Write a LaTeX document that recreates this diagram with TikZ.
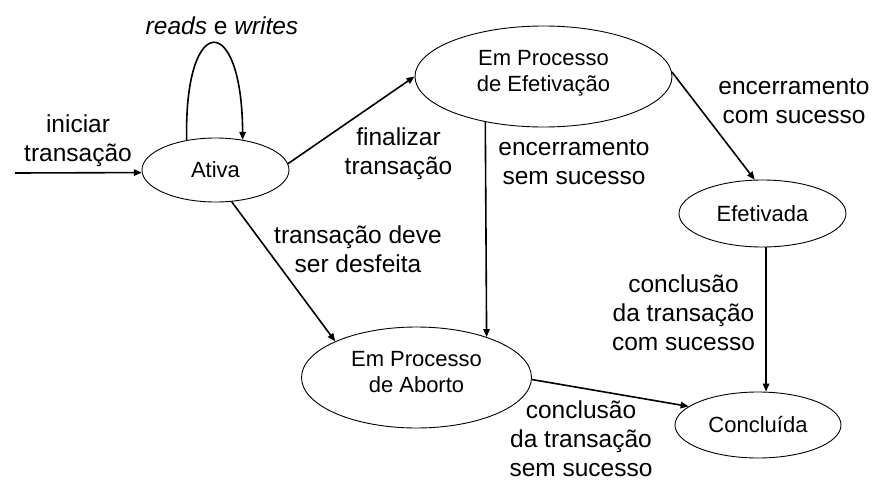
\documentclass[tikz,border=0pt]{standalone}
\usepackage{fontspec}
\setmainfont{Liberation Sans}
\usetikzlibrary{arrows.meta,shapes.geometric}
\begin{document}
\begin{tikzpicture}[x=1pt,y=-1pt,
  state/.style={draw,ellipse,line width=0.9pt,inner sep=0pt,font=\fontsize{22}{26}\selectfont,align=center},
  lbl/.style={font=\fontsize{24.5}{29}\selectfont,align=center,inner sep=0pt},
  arr/.style={line width=1.6pt,-{Triangle[length=8pt,width=6.5pt]}}]
\fill[white] (0,0) rectangle (879,490);
\useasboundingbox (0,0) rectangle (879,490);

% states
\node[state,minimum width=147pt,minimum height=64pt] (ativa) at (215.5,170) {Ativa};
\node[state,minimum width=257pt,minimum height=101pt] (efet) at (543.5,76.5) {Em Processo\\de Efetivação\rule[-11pt]{0pt}{0pt}};
\node[state,minimum width=167pt,minimum height=67pt] (efetivada) at (762.5,213.5) {Efetivada};
\node[state,minimum width=230pt,minimum height=101pt] (aborto) at (416.5,377.5) {Em Processo\\de Aborto\rule[-11pt]{0pt}{0pt}};
\node[state,minimum width=166pt,minimum height=66pt] (concluida) at (758,425) {Concluída};

\coordinate (start) at (15,173);

% labels
\node[lbl] (lread) at (222,26) {\textit{reads} e \textit{writes}};
\node[lbl] (linic) at (78,140.5) {iniciar\\transação};
\node[lbl] (lfin) at (398.5,154.1) {finalizar\\transação};
\node[lbl] (lencsem) at (574,162.6) {encerramento\\sem sucesso};
\node[lbl] (lenccom) at (794,100.8) {encerramento\\com sucesso};
\node[lbl] (ldesf) at (358,249.2) {transação deve\\ser desfeita};
\node[lbl] (lconcom) at (683.5,312.4) {conclusão\\da transação\\com sucesso};
\node[lbl] (lconsem) at (581,438.7) {conclusão\\da transação\\sem sucesso};

% connectors
\draw[arr] (start) -- (ativa.182.5);
\draw[arr] (ativa.134) .. controls (184,11) and (242,11) .. (ativa.48.4);
\draw[arr] (ativa.5.4) -- (efet.west);
\draw[arr] (ativa.-63) -- (aborto.156);
\draw[arr] (efet.2) -- (efetivada.103);
\draw[arr] (efet.-142.4) -- (aborto.30.6);
\draw[arr] (efetivada.-84) -- (efetivada.-84 |- concluida.north);
\draw[arr] (aborto.-1) -- (concluida.165);
\end{tikzpicture}
\end{document}
